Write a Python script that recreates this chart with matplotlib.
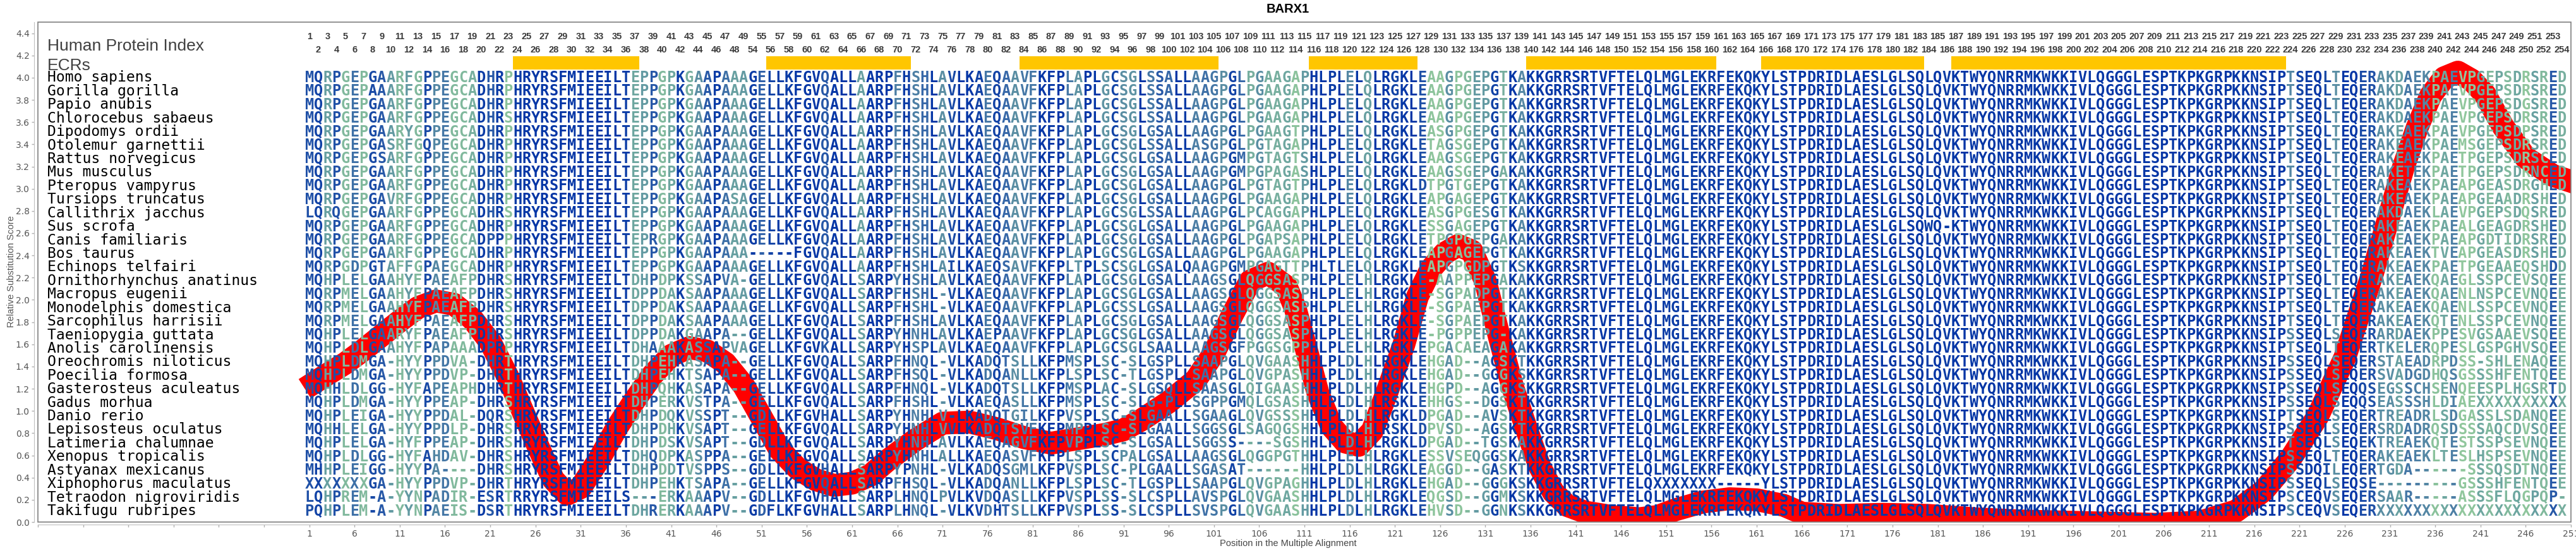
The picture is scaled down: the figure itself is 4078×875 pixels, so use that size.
import matplotlib
matplotlib.use("Agg")
import matplotlib.pyplot as plt
from matplotlib import font_manager
from matplotlib.colors import LinearSegmentedColormap
from matplotlib.font_manager import FontProperties
from matplotlib.patches import Rectangle
from collections import Counter

# ---------- DATA ----------
species = [
    "Homo sapiens", "Gorilla gorilla", "Papio anubis", "Chlorocebus sabaeus",
    "Dipodomys ordii", "Otolemur garnettii", "Rattus norvegicus", "Mus musculus",
    "Pteropus vampyrus", "Tursiops truncatus", "Callithrix jacchus", "Sus scrofa",
    "Canis familiaris", "Bos taurus", "Echinops telfairi", "Ornithorhynchus anatinus",
    "Macropus eugenii", "Monodelphis domestica", "Sarcophilus harrisii",
    "Taeniopygia guttata", "Anolis carolinensis", "Oreochromis niloticus",
    "Poecilia formosa", "Gasterosteus aculeatus", "Gadus morhua", "Danio rerio",
    "Lepisosteus oculatus", "Latimeria chalumnae", "Xenopus tropicalis",
    "Astyanax mexicanus", "Xiphophorus maculatus", "Tetraodon nigroviridis",
    "Takifugu rubripes",
]

# alignment columns 1-14
seg_a = [
    "MQRPGEPGAARFGP", "MQRPGEPAAARFGP", "MQRPGEPGAARFGP", "MQRPGEPGAARFGP",
    "MQRPGEPGAARYGP", "MQRPGEPGASRFGQ", "MQRPGEPGSARFGP", "MQRPGEPGAARFGP",
    "MQRPGEPGAARFGP", "MQRPGEPGAVRFGP", "LQRQGEPGAARFGP", "MQRPGEPGAARFGP",
    "MQRPGEPGAARFGP", "MQRPGEPGAARFGP", "MQRPGDPGTAFFGP", "MQHPLELGAAHYFP",
    "MQRPMELGAAHYFP", "MQRPMELGAAHYFP", "MQRPMELGAAHYFP", "MQHPLELGAARYFP",
    "MQHPLDLGAAHYFP", "MQHPLDMGA-HYYP", "MQHPLDMGA-HYYP", "MQHHLDLGG-HYFA",
    "MQHPLDMGA-HYYP", "MQHPLEIGA-HYYP", "MQHHLELGA-HYYP", "MQHPLELGA-HYFP",
    "MQHPLDLGG-HYFA", "MHHPLEIGG-HYYP", "XXXXXXXGA-HYYP", "LQHPREM-A-YYNP",
    "PQHPLEM-A-YYNP",
]

# alignment columns 15-51
seg_b = [
    "PEGCADHRPHRYRSFMIEEILTEPPGPKGAAPAAAGE",
    "PEGCADHRPHRYRSFMIEEILTEPPGPKGAAPAAAGE",
    "PEGCADHRPHRYRSFMIEEILTEPPGPKGAAPAAAGE",
    "PEGCADHRSHRYRSFMIEEILTEPPGPKGAAPAAAGE",
    "PEGCADHRPHRYRSFMIEEILTEPPGPKGAAPAAAGE",
    "PEGCADHRPHRYRSFMIEEILTEPPGPKGAAPAAAGE",
    "PEGCADHRPHRYRSFMIEEILTEPPGPKGAAPAAAGE",
    "PEGCADHRPHRYRSFMIEEILTEPPGPKGAAPAAAGE",
    "PEGCADHRPHRYRSFMIEEILTEPPGPKGAAPAAAGE",
    "PEGCADHRPHRYRSFMIEEILTEPPGPKGAAPASAGE",
    "PEGCADHRSHRYRSFMIEEILTEPPGPKGAAPAAAGE",
    "PEGCADHRPHRYRSFMIEEILTEPPGPKGAAPAAAGE",
    "PEGCADPPPHRYRSFMIEEILTEPRGPKGAAPAAAGE",
    "PEGCADHRPHRYRSFMIEEILTEPPGPKGAAPAAA--",
    "AEGCADHRPHRYRSFMIEEILTEPPGPKGAAPAAAGE",
    "AEAFPDHRSHRYRSFMIEEILTDHPDPKSSAPVA-GE",
    "AEAFPDHRSHRYRSFMIEEILTDPPDAKSAAPAAAGE",
    "AEAFPDHRSHRYRSFMIEEILTDPPDAKSAAPAAAGE",
    "AEAFPDHRSHRYRSFMIEEILTDPPDAKSAAPAAAGE",
    "AEAFPDHRSHRYRSFMIEEILTDPPDAKGAAPA--GE",
    "APAAADPRPHRYRSFMIEEILTDHAAAKASSAPVAGE",
    "PDVA-DHRTHRYRSFMIEEILTDHPEHKASAPA--GE",
    "PDVP-DHRTHRYRSFMIEEILTDHPEHKTSAPA--GE",
    "PEAPHDHRTHRYRSFMIEEILTDHPQHKASAPA--GE",
    "PEAP-DHRSHRYRSFMIEEILTDHPERKVSTPA--GE",
    "PDAL-DQRSHRYRSFMIEEILTDHPDQKVSSPT--GD",
    "PDLP-DHRSHRYRSFMIEEILTDHPDHKVSAPT--GE",
    "PEAP-DHRSHRYRSFMIEEILTDHPDSKVSAPT--GD",
    "HDAV-DHRSHRYRSFMIEEILTDHQDPKASPPA--GE",
    "A----DHRSHRYRSFMIEEILTDHPDDTVSPPS--GD",
    "PDVP-DHRTHRYRSFMIEEILTDHPEHKTSAPA--GE",
    "ADIR-ESRTRRYRSFMIEEILS---ERKAAAPV--GD",
    "AEIS-DSRTHRYRSFMIEEILTDHRERKAAAPV--GD",
]

# alignment columns 52-87
seg_c = [
    "LLKFGVQALLAARPFHSHLAVLKAEQAAVFKFPLAP",
    "LLKFGVQALLAARPFHSHLAVLKAEQAAVFKFPLAP",
    "LLKFGVQALLAARPFHSHLAVLKAEQAAVFKFPLAP",
    "LLKFGVQALLAARPFHSHLAVLKAEQAAVFKFPLAP",
    "LLKFGVQALLAARPFHSHLAVLKAEQAAVFKFPLAP",
    "LLKFGVQALLAARPFHSHLAVLKAEQAAVFKFPLAP",
    "LLKFGVQALLAARPFHSHLAVLKAEQAAVFKFPLAP",
    "LLKFGVQALLAARPFHSHLAVLKAEQAAVFKFPLAP",
    "LLKFGVQALLAARPFHSHLAVLKAEQAAVFKFPLAP",
    "LLKFGVQALLAARPFHSHLAVLKAEQAAVFKFPLAP",
    "LLKFGVQALLAARPFHSHLAVLKAEQAAVFKFPLAP",
    "LLKFGVQALLAARPFHSHLAVLKAEQAAVFKFPLAP",
    "LLKFGVQALLAARPFHSHLAVLKAEQAAVFKFPLAP",
    "---FGVQALLAARPFHSHLAVLKAEQAAVFKFPLAP",
    "LLKFGVQALLAARPFHSHLAILKAEQSAVFKFPLTP",
    "LLKFGVQALLSARPYHSHLAVLKAEQAAVFKFPLAP",
    "LLKFGVQALLSARPFHSHL-VLKAEQAAVFKFPLAP",
    "LLKFGVQALLSARPFHSHL-VLKAEQAAVFKFPLAP",
    "LLKFGVQALLSARPFHSHLAVLKAEQAAVFKFPLAP",
    "LLKFGVQALLSARPYHNHLAVLKAEPAAVFKFPLAP",
    "LLKFGVKALLSARPYHSPLAVLKAEQAAVFKFPLAP",
    "LLKFGVQALLSARPFHNQL-VLKADQTSLLKFPMSP",
    "LLKFGVQALLSARPFHSQL-VLKADQANLLKFPLSP",
    "LLKFGVQALLSARPFHNQL-VLKADQTSLLKFPMSP",
    "LLKFGVQALLSARPFHSHL-VLKAEQASLLKFPMSP",
    "LLKFGVHALLSARPYHNHLV-LKADQTGILKFPVSP",
    "LLKFGVQALLSARPYHNHLVVLKADQTSVFKFPMPP",
    "LLKFGVQALLSARPYHNHLAVLKAEQAGVFKFPVPP",
    "LLKFGVQALLSARPYHNHLALLKAEQASVFKFPLSP",
    "LLKFGVHALLSARPYPNHL-VLKADQSGMLKFPVSP",
    "LLKFGVQALLSARPFHSQL-VLKADQANLLKFPLSP",
    "LLKFGVHALLSARPLHNQLPVLKVDQASLLKFPVSP",
    "FLKFGVHALLSARPLHNQL-VLKVDHTSLLKFPVSP",
]

# alignment columns 88-123
seg_d = [
    "LGCSGLSSALLAAGPGLPGAAGAPHLPLELQLRGKL",
    "LGCSGLSSALLAAGPGLPGAAGAPHLPLELQLRGKL",
    "LGCSGLSSALLAAGPGLPGAAGAPHLPLELQLRGKL",
    "LGCSGLSSALLAAGPGLPGAAGAPHLPLELQLRGKL",
    "LGCSGLGSALLAAGPGLPGAAGTPHLPLELQLRGKL",
    "LGCSGLSSALLASGPGLPGTAGAPHLPLELQLRGKL",
    "LGCSGLGSALLAAGPGMPGTAGTSHLPLELQLRGKL",
    "LGCSGLGSALLAAGPGMPGPAGASHLPLELQLRGKL",
    "LGCSGLGSALLAAGPGLPGTAGTPHLPLELQLRGKL",
    "LGCSGLGSALLAAGPGLPGAAGAPHLPLELQLRGKL",
    "LGCSGLSSALLAAGPGLPCAGGAPHLPLELQLRGKL",
    "LGCSGLGSALLAAGPGLPGAAGAPHLPLELQLRGKL",
    "LGCSGLGSALLAAGPGLPGAPSAPHLPLELQLRGKL",
    "LGCSGLGSALLAAGPGLPGAAGAPHLPLELQLRGKL",
    "LSCSGLGSALQAAGPGMPGAGTTPHLTLELQLRGKL",
    "LGCSGLGSALLAAGSGLQGGSASPHLPLELHLRGKL",
    "LGCSGLGSALLAAGSGLQGGSASPHLPLELHLRGKL",
    "LGCSSLGSALLAAGSGLQGGSASPHLPLELHLRGKL",
    "LGCSGLGSALLAAGSGLQGGSASPHLPLELHLRGKL",
    "LGCSGLGSALLAAGSGLQGGSASPHLPLELHLRGKL",
    "LGCSGLSAALLAAGSGFPGGSGPPHLPLELHLRGKL",
    "LSC-SLGSPLLSAAPGLQVGAASHHLPLDLHLRGKL",
    "LSC-TLGSPLLSAAPGLQVGPASHHLPLDLHLRGKL",
    "LAC-SLGSQLLSAASGLQIGAASHHLPLDLHLRGKL",
    "LSC-SLG-PLLSGPPGMQLGSASHHLPLDLHLRSKL",
    "LSC-SLGAALLSGAAGLQVGSSSHHLPLDLHLRGKL",
    "LSC-SLGAALLSGGSGLSAGQGSHHLPLDLHLRSKL",
    "LSC-SLGSALLSGGSS----SGSHHLPLDLHLRGKL",
    "LSCPALGSALLAAGSGLQGGPGTHHLPLELHLRGKL",
    "LSC-PLGAALLSGASAT------HHLPLDLHLRGKL",
    "LSC-TLGSPLLSAAPGLQVGPAGHHLPLDLHLRGKL",
    "LSS-SLCSPLLAVSPGLQVGAASHHLPLDLHLRGKL",
    "LSS-SLCSPLLSVSPGLQVGAASHHLPLDLHLRGKL",
]

# alignment columns 124-160
seg_e = [
    "EAAGPGEPGTKAKK" "GRRSRTVFTELQLMGLEKRFEKQ",
    "EAAGPGEPGTKAKK" "GRRSRTVFTELQLMGLEKRFEKQ",
    "EAAGPGEPGTKAKK" "GRRSRTVFTELQLMGLEKRFEKQ",
    "EAAGPGEPGTKAKK" "GRRSRTVFTELQLMGLEKRFEKQ",
    "EASGPGEPGTKAKK" "GRRSRTVFTELQLMGLEKRFEKQ",
    "ETAGSGEPGTKAKK" "GRRSRTVFTELQLMGLEKRFEKQ",
    "EAAGSGEPGTKAKK" "GRRSRTVFTELQLMGLEKRFEKQ",
    "EAAGSGEPGAKAKK" "GRRSRTVFTELQLMGLEKRFEKQ",
    "DTPGTGEPGTKAKK" "GRRSRTVFTELQLMGLEKRFEKQ",
    "EAPGAGEPGTKAKK" "GRRSRTVFTELQLMGLEKRFEKQ",
    "EASGPGESGTKAKK" "GRRSRTVFTELQLMGLEKRFEKQ",
    "ESSGAGEPGTKAKK" "GRRSRTVFTELQLMGLEKRFEKQ",
    "ETPGPGEPGAKAKK" "GRRSRTVFTELQLMGLEKRFEKQ",
    "EAPGAGEPGTKAKK" "GRRSRTVFTELQLMGLEKRFEKQ",
    "EAPGPGDPGTKSKK" "GRRSRTVFTELQLMGLEKRFEKQ",
    "E-AAPPEPGAKAKK" "GRRSRTVFTELQLMGLEKRFEKQ",
    "E-SGPADPGTKAKK" "GRRSRTVFTELQLMGLEKRFEKQ",
    "E-SGPAEPGTKAKK" "GRRSRTVFTELQLMGLEKRFEKQ",
    "E-SGPAEPGTKAKK" "GRRSRTVFTELQLMGLEKRFEKQ",
    "E-PGPPEPG-KAKK" "GRRSRTVFTELQLMGLEKRFEKQ",
    "EPGACAEAGAKAKK" "GRRSRTVFTELQLMGLEKRFEKQ",
    "EHGAD--AGSKTKK" "GRRSRTVFTELQLMGLEKRFEKQ",
    "EHGAD--GGGKSKK" "GRRSRTVFTELQLMGLEKRFEKQ",
    "EHGPD--AGGKSKK" "GRRSRTVFTELQLMGLEKRFEKQ",
    "EHHGS--DGSKTKK" "GRRSRTVFTELQLMGLEKRFEKQ",
    "DPGAD--AVSKTKK" "GRRSRTVFTELQLMGLEKRFEKQ",
    "DPVSD--AGSKTKK" "GRRSRTVFTELQLMGLEKRFEKQ",
    "DPGAD--TGSKAKK" "GRRSRTVFTELQLMGLEKRFEKQ",
    "ESSVSEQGGSKAKK" "GRRSRTVFTELQLMGLEKRFEKQ",
    "EAGGD--GASKTKK" "GRRSRTVFTELQLMGLEKRFEKQ",
    "EHGAD--GGGKSKK" "GRRSRTVFTELQXXXXXXX----",
    "EQGSD--GGMKSKK" "GRRSRTVFTELQLMGLEKRFEKQ",
    "EHVSD--GGNKSKK" "GRRSRTVFTELQLMGLEKRFEKQ",
]

# alignment columns 161-197
seg_f = ["KYLSTPDRIDLAESLGLSQLQVKTWYQNRRMKWKKIV"] * 33
seg_f[11] = "KYLSTPDRIDLAESLGLSQWQ-KTWYQNRRMKWKKIV"
seg_f[30] = "-YLSTPDRIDLAESLGLSQLQVKTWYQNRRMKWKKIV"

# alignment columns 198-250
seg_g = [
    "LQGGGLESPTKPKGRPKKNSIPTSEQLTEQE" "RAKDAEKPAEVPGEPSDRSRED",
    "LQGGGLESPTKPKGRPKKNSIPTSEQLTEQE" "RAKDAEKPAEVPGEPSDRSRED",
    "LQGGGLESPTKPKGRPKKNSIPTSEQLTEQE" "RAKDAEKPAEVPGEPSDGSRED",
    "LQGGGLESPTKPKGRPKKNSIPTSEQLTEQE" "RAKDAEKPAEVPGEPSDRSRED",
    "LQGGGLESPTKPKGRPKKNSIPTSEQLTEQE" "RAKEAEKPAEVPGEPSDPSRED",
    "LQGGGLESPTKPKGRPKKNSIPTSEQLTEQE" "RAKEAEKPAEMSGEPSDRSRED",
    "LQGGGLESPTKPKGRPKKNSIPTSEQLTEQE" "RAKEAEKPAETPGEPSDRSCED",
    "LQGGGLESPTKPKGRPKKNSIPTSEQLTEQE" "RAKETEKPAETPGEPSDRNCED",
    "LQGGGLESPTKPKGRPKKNSIPTSEQLTEQE" "RAKEAEKPAEAPGEASDRGHED",
    "LQGGGLESPTKPKGRPKKNSIPTSEQLTEQE" "RAKEAEKPAEAPGEAADRSHED",
    "LQGGGLESPTKPKGRPKKNSIPTSEQLTEQE" "RAKDAEKLAEVPGEPSDQSRED",
    "LQGGGLESPTKPKGRPKKNSIPTSEQLTEQE" "RAKEAEKPAEALGEAGDRSHED",
    "LQGGGLESPTKPKGRPKKNSIPTSEQLTEQE" "RAKEAEKPAEAPGDTIDRSRED",
    "LQGGGLESPTKPKGRPKKNSIPTSEQLTEQE" "RAKEAEKTVEAPGEASDRSHED",
    "LQGGGLESPTKPKGRPKKNSIPTSEQLTEQE" "RAKEAEKPAETPGEAAEQSHDD",
    "LQGGGLESPTKPKGRPKKNSIPTSEQLTEQE" "RAKEAEKQAEGLSSPCEVSQEE",
    "LQGGGLESPTKPKGRPKKNSIPTSEQLTEQE" "RAKEAEKQAENLNSPCEVNQEE",
    "LQGGGLESPTKPKGRPKKNSIPTSEQLTEQE" "RAKEAEKQAENLSSPCEVNQEE",
    "LQGGGLESPTKPKGRPKKNSIPTSEQLTEQE" "RAKEAEKQTENLSSPCEVNQEE",
    "LQGGGLESPTKPKGRPKKNSIPSSEQLSEQE" "RARDAEKPPESVGSAAEVSQEE",
    "LQGGGLESPTKPKGRPKKNSIPTSEQLTEQE" "RTKELERQPESLGSPGHVSQEE",
    "LQGGGLESPTKPKGRPKKNSI" "PSSEQLSEQERSTAEADRPDSS-SHLENAQEE",
    "LQGGGLESPTKPKGRPKKNSI" "PSSEQLSEQERSVADGDHQSGSSSHFENTQEE",
    "LQGGGLESPTKPKGRPKKNSI" "PSSEQLSEQQSEGSSCHSENQEESPLHGSRTD",
    "LQGGGLESPTKPKGRPKKNSI" "PSSEQLSEQQSEASSSHLDIAEXXXXXXXXXX",
    "LQGGGLESPTKPKGRPKKNSI" "PTSEQLSEQERTREADRLSDGASSLSDANQEE",
    "LQGGGLESPTKPKGRPKKNSI" "PSSEQLSEQERSRDADRQSDSSSAQCDVSQEE",
    "LQGGGLESPTKPKGRPKKNSI" "PTSEQLSEQEKTREAEKQTESTSSPSEVNQEE",
    "LQGGGLESPTKPKGRPKKNSI" "PSSEQLTEQERAKEAEKLTESLHSPSEVNQEE",
    "LQGGGLESPTKPKGRPKKNSI" "PSSDQILEQERTGDA------SSSQSDTNQEE",
    "LQGGGLESPTKPKGRPKKNSI" "PSSEQLSEQSE---------GSSSHFENTQEE",
    "LQGGGLESPTKPKGRPKKNSI" "PSCEQVSEQERSAAR-----ASSSFLQGPQP-",
    "LQGGGLESPTKPKGRPKKNSI" "PSCEQVSEQERXXXXXXXXXXXXXXXXXXXXX",
]

# human residue numbers shown above the alignment columns (50-53 not in alignment)
human_index = list(range(1, 50)) + list(range(54, 255))

# evolutionarily conserved regions, in human residue numbers
ecr_ranges = [(24, 37), (56, 71), (84, 105), (116, 127), (140, 160), (166, 183), (187, 223)]

# relative substitution score read along the alignment
curve_pos = [0.5, 3, 5, 7, 9, 11, 13, 15, 17, 19, 21, 23, 25, 27, 28, 29.5, 31, 33, 35, 37,
             39, 41, 43, 45, 47, 49, 51, 53, 55, 57, 59, 61, 63, 65, 68, 71, 74, 77, 80, 83,
             86, 89, 91, 93, 96, 99, 101, 103, 105, 107, 109, 110, 111, 112.5, 114, 115.5,
             117, 118.5, 120, 122, 123.5, 125, 126.5, 128, 129.5, 131, 132.5, 134, 135.5,
             137, 138.5, 140, 142, 145, 148, 150, 152, 155, 158, 161, 164, 166, 170, 175,
             180, 185, 190, 195, 200, 205, 210, 214, 217, 220, 223, 226, 229, 231, 232.5,
             234, 235.5, 237, 238.5, 240, 241.5, 243.5, 246, 249, 252]
curve_val = [1.20, 1.33, 1.43, 1.55, 1.68, 1.81, 1.93, 1.99, 1.96, 1.83, 1.62, 1.30, 0.92,
             0.55, 0.38, 0.25, 0.31, 0.56, 0.85, 1.10, 1.33, 1.50, 1.57, 1.54, 1.43, 1.23,
             0.94, 0.65, 0.48, 0.38, 0.33, 0.35, 0.42, 0.56, 0.74, 0.89, 0.90, 0.84, 0.76,
             0.71, 0.75, 0.79, 0.83, 0.92, 1.08, 1.28, 1.52, 1.86, 2.17, 2.24, 2.12, 1.92,
             1.62, 1.16, 0.86, 0.72, 0.69, 0.82, 1.14, 1.60, 2.03, 2.28, 2.42, 2.49, 2.44,
             2.17, 1.68, 1.22, 0.85, 0.50, 0.27, 0.15, 0.09, 0.05, 0.03, 0.05, 0.11, 0.18,
             0.21, 0.20, 0.15, 0.08, 0.06, 0.07, 0.06, 0.03, 0.01, 0.00, -0.01, -0.02, 0.00,
             0.10, 0.28, 0.57, 0.95, 1.48, 2.22, 2.78, 3.20, 3.55, 3.84, 4.00, 4.05, 3.98,
             3.85, 3.56, 3.28, 3.12, 3.04]

# ---------- BUILD ----------
sequences = ["".join(p) for p in zip(seg_a, seg_b, seg_c, seg_d, seg_e, seg_f, seg_g)]
n_cols = len(human_index)
for name, s in zip(species, sequences):
    if len(s) != n_cols:
        raise ValueError(f"{name}: {len(s)} columns")

# column conservation -> letter colour
cons = []
for j in range(n_cols):
    col = [s[j] for s in sequences]
    counts = Counter(c for c in col if c not in "-X")
    cons.append(counts.most_common(1)[0][1] / len(col) if counts else 0.0)

cmap = LinearSegmentedColormap.from_list("cons", [
    (0.0, "#96cb9e"), (0.42, "#8cc39c"), (0.52, "#6ca5a0"), (0.66, "#5689a4"),
    (0.80, "#3465a8"), (0.92, "#1647a6"), (1.0, "#0536a6")])
col_colors = [cmap(c) for c in cons]

names = {f.name for f in font_manager.fontManager.ttflist}
narrow = "Liberation Sans Narrow" in names
idx_family = "Liberation Sans Narrow" if narrow else "Liberation Sans"
idx_size = 12 if narrow else 10.5

# ---------- PLOT ----------
fig = plt.figure(figsize=(40.78, 8.75), dpi=100)
ax = fig.add_axes([60 / 4078, 49 / 875, 4010 / 4078, 791 / 875])
ax.set_xlim(-29, 251)
ax.set_ylim(0, 4.5)

# red substitution curve, under the letters
ax.plot(curve_pos, curve_val, color="#ff0000", lw=26, solid_capstyle="butt",
        solid_joinstyle="round", zorder=2)

row_top = 4.0
row_step = 0.1219
seq_font = FontProperties(family="DejaVu Sans Mono", weight="bold", size=17)
name_font = FontProperties(family="DejaVu Sans Mono", size=16.6)

for i, (name, seq) in enumerate(zip(species, sequences)):
    y = row_top - i * row_step
    ax.text(-27.95, y, name, fontproperties=name_font, color="black",
            ha="left", va="center", zorder=4)
    for j, ch in enumerate(seq):
        ax.text(j + 1, y, ch, fontproperties=seq_font, color=col_colors[j],
                ha="center", va="center", zorder=4)

# human protein index
for j, hi in enumerate(human_index):
    ax.text(j + 1, 4.37 if hi % 2 else 4.25, str(hi), family=idx_family,
            fontsize=idx_size, fontweight="bold", color="#3a3a3a",
            ha="center", va="center", zorder=4)

# ECR bars
col_of = {hi: j + 1 for j, hi in enumerate(human_index)}
bars = [(col_of[a] - 0.5, col_of[b] - col_of[a] + 1) for a, b in ecr_ranges]
ax.broken_barh(bars, (4.075, 0.12), facecolors="#ffc600", edgecolor="none", zorder=3)

ax.text(-27.95, 4.285, "Human Protein Index", family="Liberation Sans", fontsize=19,
        color="#404040", ha="left", va="center")
ax.text(-27.95, 4.11, "ECRs", family="Liberation Sans", fontsize=19,
        color="#404040", ha="left", va="center")

# axes styling
xt = list(range(-29, 252, 5))
ax.set_xticks(xt)
ax.set_xticklabels([str(v) if v > 0 else "" for v in xt])
yt = [i / 5 for i in range(23)]
ax.set_yticks(yt)
ax.set_yticklabels([f"{v:.1f}" for v in yt])
ax.tick_params(axis="both", colors="#b0b0b0", labelcolor="#555555", labelsize=10,
               length=3, width=1, pad=2.5)
for lab in ax.get_xticklabels() + ax.get_yticklabels():
    lab.set_family("Liberation Sans")
for s in ["top", "right"]:
    ax.spines[s].set_visible(False)
ax.spines["left"].set_position(("outward", 4))
ax.spines["bottom"].set_position(("outward", 3))
for s in ["left", "bottom"]:
    ax.spines[s].set_color("#c0c0c0")
ax.add_patch(Rectangle((0, 0), 1, 1, transform=ax.transAxes, fill=False,
                       edgecolor="#808080", lw=1.2, clip_on=False, zorder=5))

fig.text(0.5, 1 - 15 / 875, "BARX1", family="Liberation Sans", fontweight="bold",
         fontsize=14.5, ha="center", va="center")
fig.text(18 / 4078, 1 - 430 / 875, "Relative Substitution Score", family="Liberation Sans",
         fontsize=10.5, color="#555555", rotation=90, ha="center", va="center")
fig.text(0.5, 1 - 860 / 875, "Position in the Multiple Alignment", family="Liberation Sans",
         fontsize=10.5, color="#444444", ha="center", va="center")

fig.savefig("out.png", dpi=100)
